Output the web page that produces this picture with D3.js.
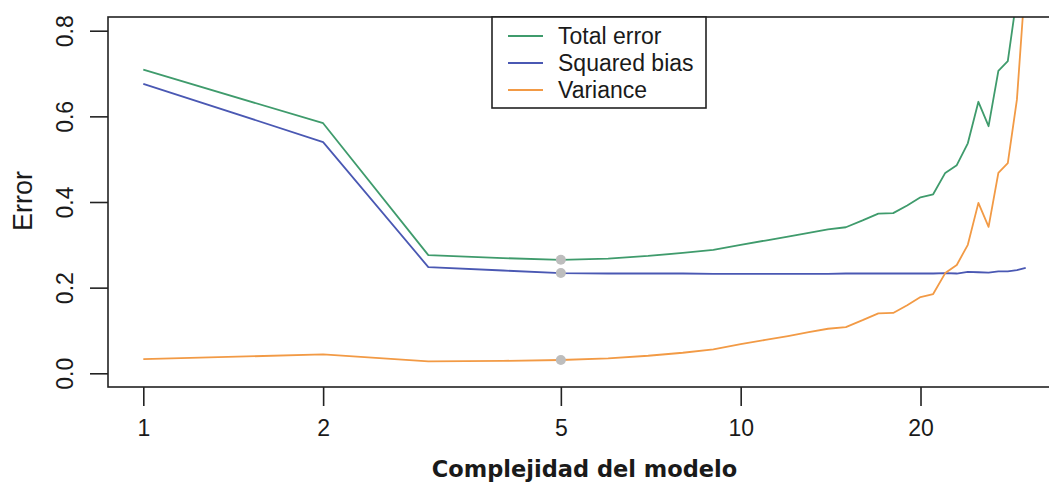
<!DOCTYPE html>
<html>
<head>
<meta charset="utf-8">
<script src="https://cdn.jsdelivr.net/npm/d3@7"></script>
<style>
  html, body { margin: 0; padding: 0; background: #fff; }
  svg { display: block; }
</style>
</head>
<body>
<svg id="chart" width="1049" height="483"></svg>
<script>
// Model complexity (number of parameters) on the x axis
const complexity = [1, 2, 3, 4, 5, 6, 7, 8, 9, 10, 11, 12, 13, 14, 15,
                    16, 17, 18, 19, 20, 21, 22, 23, 24, 25, 26, 27, 28, 29, 30];

const totalError = [0.709, 0.584, 0.276, 0.269, 0.265, 0.268, 0.274, 0.281, 0.288, 0.300,
                    0.310, 0.319, 0.328, 0.336, 0.341, 0.357, 0.373, 0.374, 0.392, 0.411,
                    0.418, 0.468, 0.486, 0.537, 0.634, 0.577, 0.706, 0.729, 0.880, 1.176];

const squaredBias = [0.676, 0.540, 0.248, 0.240, 0.234, 0.233, 0.233, 0.233, 0.232, 0.232,
                     0.232, 0.232, 0.232, 0.232, 0.233, 0.233, 0.233, 0.233, 0.233, 0.233,
                     0.233, 0.234, 0.233, 0.237, 0.236, 0.235, 0.238, 0.238, 0.241, 0.246];

const variance = [0.033, 0.044, 0.028, 0.029, 0.031, 0.035, 0.041, 0.048, 0.056, 0.068,
                  0.078, 0.087, 0.096, 0.104, 0.108, 0.124, 0.140, 0.141, 0.159, 0.178,
                  0.185, 0.234, 0.253, 0.300, 0.398, 0.342, 0.468, 0.491, 0.639, 0.930];

// Highlighted model (optimal complexity)
const highlightX = 5;

const xTicks = [1, 2, 5, 10, 20];
const yTicks = [0, 0.2, 0.4, 0.6, 0.8];

const seriesNames = ["Total error", "Squared bias", "Variance"];
const seriesColors = ["#3f9b6c", "#4a58b3", "#f29a45"];
const seriesValues = [totalError, squaredBias, variance];

// ---- layout ----
const plot = { left: 108, right: 1061, top: 17, bottom: 387 };
const svg = d3.select("#chart");

// log x scale with 4% padding on each side, like base R plots
const xMin = d3.min(complexity), xMax = d3.max(complexity);
const lx0 = Math.log10(xMin), lx1 = Math.log10(xMax), pad = 0.04 * (lx1 - lx0);
const x = d3.scaleLog()
  .domain([Math.pow(10, lx0 - pad), Math.pow(10, lx1 + pad)])
  .range([plot.left, plot.right]);

const yPad = 0.04 * 0.8;
const y = d3.scaleLinear()
  .domain([0 - yPad, 0.8 + yPad])
  .range([plot.bottom, plot.top]);

svg.append("defs").append("clipPath").attr("id", "plot-clip")
  .append("rect")
  .attr("x", plot.left).attr("y", plot.top)
  .attr("width", plot.right - plot.left).attr("height", plot.bottom - plot.top);

// ---- series lines ----
const line = d3.line()
  .x((d, i) => x(complexity[i]))
  .y(d => y(d));

const lines = svg.append("g").attr("clip-path", "url(#plot-clip)");
seriesValues.forEach((vals, k) => {
  lines.append("path")
    .datum(vals)
    .attr("d", line)
    .attr("fill", "none")
    .attr("stroke", seriesColors[k])
    .attr("stroke-width", 1.8)
    .attr("stroke-linejoin", "round");
});

// markers at the chosen model
const hi = complexity.indexOf(highlightX);
lines.selectAll("circle.mark")
  .data(seriesValues.map(v => v[hi]))
  .join("circle")
  .attr("class", "mark")
  .attr("cx", x(highlightX))
  .attr("cy", d => y(d))
  .attr("r", 5)
  .attr("fill", "#bdbdbd");

// ---- plot frame ----
svg.append("rect")
  .attr("x", plot.left).attr("y", plot.top)
  .attr("width", plot.right - plot.left).attr("height", plot.bottom - plot.top)
  .attr("fill", "none")
  .attr("stroke", "#222")
  .attr("stroke-width", 1.6);

// ---- axes ----
const axisFont = "'Liberation Sans', Arial, sans-serif";

const xAxis = d3.axisBottom(x)
  .tickValues(xTicks)
  .tickFormat(d3.format("d"))
  .tickSize(19)
  .tickPadding(14);

const gx = svg.append("g")
  .attr("transform", `translate(0,${plot.bottom})`)
  .call(xAxis);
gx.select(".domain").remove();
gx.selectAll(".tick line").attr("stroke", "#222").attr("stroke-width", 1.6);
gx.selectAll(".tick text")
  .attr("font-family", axisFont)
  .attr("font-size", 23)
  .attr("fill", "#1a1a1a");

const yAxis = d3.axisLeft(y)
  .tickValues(yTicks)
  .tickFormat(d3.format(".1f"))
  .tickSize(18);

const gy = svg.append("g")
  .attr("transform", `translate(${plot.left},0)`)
  .call(yAxis);
gy.select(".domain").remove();
gy.selectAll(".tick line").attr("stroke", "#222").attr("stroke-width", 1.6);
gy.selectAll(".tick text")
  .attr("x", null).attr("dy", null)
  .attr("transform", "translate(-35,0) rotate(-90)")
  .attr("text-anchor", "middle")
  .attr("font-family", axisFont)
  .attr("font-size", 23)
  .attr("fill", "#1a1a1a");

// axis titles
svg.append("text")
  .attr("transform", `translate(32,${(y(0) + y(0.8)) / 2 - 1}) rotate(-90)`)
  .attr("text-anchor", "middle")
  .attr("font-family", axisFont)
  .attr("font-size", 27)
  .attr("fill", "#1a1a1a")
  .text("Error");

svg.append("text")
  .attr("x", (plot.left + plot.right) / 2)
  .attr("y", 477)
  .attr("text-anchor", "middle")
  .attr("font-family", "'DejaVu Sans', sans-serif")
  .attr("font-weight", "bold")
  .attr("font-size", 22.5)
  .attr("fill", "#1a1a1a")
  .text("Complejidad del modelo");

// ---- legend ----
const legend = svg.append("g").attr("transform", `translate(492,${plot.top})`);
legend.append("rect")
  .attr("x", 0).attr("y", 0)
  .attr("width", 214).attr("height", 91)
  .attr("fill", "#fff")
  .attr("stroke", "#222")
  .attr("stroke-width", 1.6);

const rows = legend.selectAll("g.row")
  .data(seriesNames)
  .join("g")
  .attr("class", "row")
  .attr("transform", (d, i) => `translate(0,${19 + i * 27})`);
rows.append("line")
  .attr("x1", 16).attr("x2", 51)
  .attr("stroke", (d, i) => seriesColors[i])
  .attr("stroke-width", 1.8);
rows.append("text")
  .attr("x", 66)
  .attr("y", 8)
  .attr("font-family", axisFont)
  .attr("font-size", 23)
  .attr("fill", "#1a1a1a")
  .text(d => d);
</script>
</body>
</html>
